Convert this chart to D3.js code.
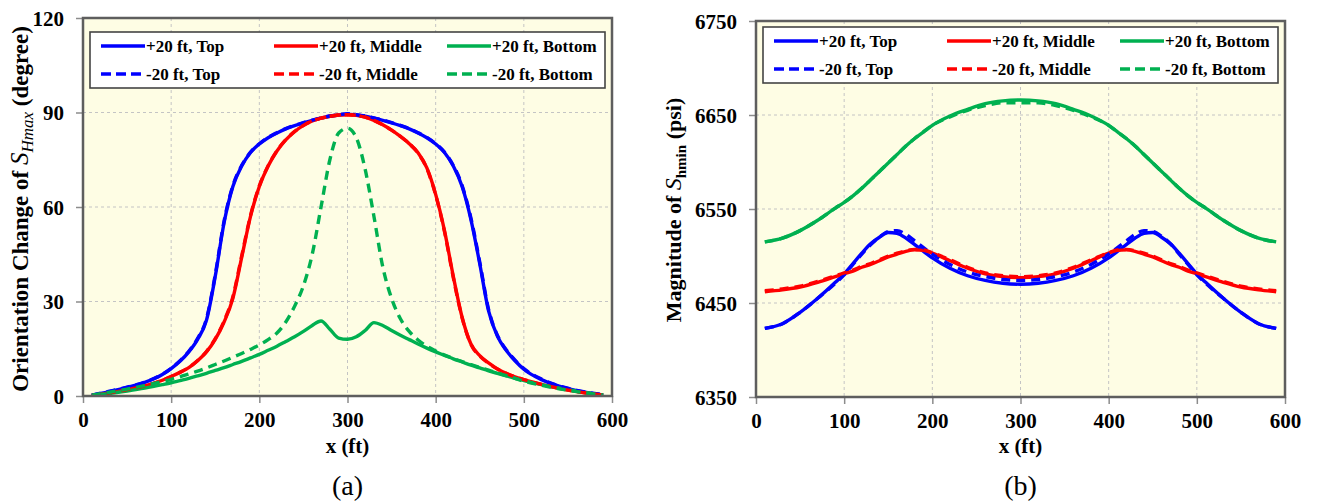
<!DOCTYPE html>
<html>
<head>
<meta charset="utf-8">
<script src="https://cdn.jsdelivr.net/npm/d3@7"></script>
<style>
  body { margin: 0; background: #fff; }
  svg { display: block; font-family: "Liberation Serif", "Times New Roman", serif; }
</style>
</head>
<body>
<svg id="chart" width="1317" height="501"></svg>
<script>
// ---------- data: panel (a) orientation change (degree) ----------
const xsA = [10, 30, 50, 70, 90, 100, 110, 120, 130, 140, 150, 160, 170, 180, 190, 200, 210, 220, 230, 240,
             250, 260, 270, 280, 290, 300, 310, 320, 330, 340, 350, 360, 370, 380, 390, 400, 410, 420, 430, 440,
             450, 460, 470, 480, 490, 500, 520, 540, 560, 590];
const topPlusA = [0.3, 1.4, 2.7, 4.3, 6.8, 8.7, 11, 14, 18, 24, 38, 55, 66.5, 73, 77.3, 80, 82, 83.5, 84.8, 85.8,
                  86.7, 87.5, 88.2, 88.8, 89.2, 89.5, 89.2, 88.8, 88.2, 87.5, 86.7, 85.8, 84.8, 83.5, 82, 80, 77.3, 73, 66.5, 56,
                  42, 27, 19, 14.5, 11.2, 8.5, 5.2, 3.1, 1.7, 0.3];
const topMinusA = [0.3, 1.5, 2.8, 4.4, 6.9, 8.8, 11.2, 14.2, 18.3, 24.5, 38.5, 55.5, 66.8, 73.2, 77.4, 80.1, 82.1, 83.6, 84.9, 85.9,
                   86.8, 87.6, 88.3, 88.9, 89.3, 89.6, 89.3, 88.9, 88.3, 87.6, 86.8, 85.9, 84.9, 83.6, 82.1, 80.1, 77.4, 73.2, 66.8, 56.5,
                   42.5, 27.5, 19.3, 14.7, 11.4, 8.7, 5.4, 3.2, 1.8, 0.4];
const midPlusA = [0.2, 1, 2, 3.2, 5, 6.2, 7.5, 9, 11.2, 14, 18, 23.5, 31, 44, 57, 66.5, 73, 77.8, 81.3, 83.9,
                  85.9, 87.3, 88.2, 88.8, 89.2, 89.3, 89.1, 88.5, 87.5, 86.1, 84.4, 82.4, 80.1, 77.2, 72.4, 64, 52.5, 38, 25, 16.5,
                  12.8, 10.5, 8.6, 7.2, 6.1, 5.2, 3.7, 2.4, 1.4, 0.3];
const midMinusA = [0.2, 1, 2, 3.2, 5, 6.2, 7.5, 9.1, 11.3, 14.1, 18.2, 23.8, 31.5, 44.5, 57.3, 66.7, 73.1, 77.9, 81.4, 84,
                   85.9, 87.3, 88.2, 88.8, 89.2, 89.3, 89.1, 88.5, 87.5, 86.1, 84.4, 82.4, 80.1, 77.1, 72.2, 63.8, 52.2, 37.6, 24.8, 16.4,
                   12.7, 10.4, 8.6, 7.2, 6.1, 5.2, 3.7, 2.4, 1.4, 0.3];
const botPlusA = [0.2, 0.8, 1.6, 2.5, 3.6, 4.2, 4.9, 5.6, 6.4, 7.2, 8.1, 9, 10, 11, 12.1, 13.2, 14.5, 15.8, 17.3, 18.8,
                  20.5, 22.4, 23.8, 21.2, 18.4, 18, 18.8, 20.8, 23.3, 22.4, 20.8, 19.3, 17.9, 16.5, 15.2, 14, 12.9, 11.8, 10.8, 9.8,
                  8.9, 8, 7.2, 6.4, 5.6, 4.9, 3.6, 2.5, 1.5, 0.2];
const botMinusA = [0.3, 1.2, 2.2, 3.3, 4.6, 5.3, 6.1, 7, 7.9, 8.9, 10, 11.1, 12.3, 13.5, 14.8, 16.2, 17.9, 20, 23.5, 28.5,
                   35, 45, 60, 75, 83.5, 85, 82, 72, 57, 41, 31, 24.5, 20.5, 17.8, 15.8, 14.3, 13, 11.9, 10.9, 10,
                   9.1, 8.2, 7.3, 6.5, 5.6, 4.7, 3.4, 2.3, 1.4, 0.3];

// ---------- data: panel (b) magnitude of Shmin (psi) ----------
const xsB = [10, 30, 50, 70, 90, 100, 110, 120, 130, 140, 150, 160, 170, 180, 190, 200, 220, 240, 260, 280, 300,
             320, 340, 360, 380, 400, 410, 420, 430, 440, 450, 460, 470, 480, 490, 500, 510, 530, 550, 570, 590];
const topPlusB = [6423, 6428, 6440, 6455, 6472, 6481, 6492, 6503, 6513, 6520, 6525, 6524, 6519, 6512, 6505, 6498, 6487, 6479, 6474, 6471, 6470,
                  6471, 6474, 6479, 6487, 6498, 6505, 6512, 6519, 6524, 6525, 6520, 6513, 6503, 6492, 6481, 6472, 6455, 6440, 6428, 6423];
const topMinusB = [6423, 6428, 6440, 6455, 6471, 6480, 6491, 6502, 6512, 6520, 6526, 6527, 6523, 6516, 6509, 6502, 6491, 6483, 6478, 6475, 6474,
                   6475, 6478, 6483, 6491, 6502, 6509, 6516, 6523, 6527, 6526, 6521, 6513, 6502, 6491, 6480, 6471, 6455, 6440, 6428, 6423];
const midPlusB = [6462, 6464, 6467, 6472, 6478, 6481, 6484, 6488, 6491, 6495, 6499, 6502, 6505, 6506.5, 6506, 6503, 6495, 6487, 6481, 6478, 6477,
                  6478, 6481, 6487, 6495, 6503, 6506, 6506.5, 6505, 6502, 6499, 6495, 6491, 6488, 6484, 6481, 6478, 6472, 6467, 6464, 6462];
const midMinusB = [6463, 6465, 6468, 6473, 6479, 6482, 6485, 6489, 6492, 6496, 6500, 6503, 6505.5, 6507, 6506.5, 6503.5, 6496, 6488, 6482, 6479, 6478,
                   6479, 6482, 6488, 6496, 6503.5, 6506.5, 6507, 6505.5, 6503, 6500, 6496, 6492, 6489, 6485, 6482, 6479, 6473, 6468, 6465, 6463];
const botPlusB = [6515, 6519, 6527, 6538, 6551, 6557, 6564, 6572, 6581, 6590, 6599, 6608, 6617, 6625, 6632, 6639, 6649, 6656, 6662, 6665, 6666,
                  6665, 6662, 6656, 6649, 6639, 6632, 6625, 6617, 6608, 6599, 6590, 6581, 6572, 6564, 6557, 6551, 6538, 6527, 6519, 6515];
const botMinusB = [6515, 6519, 6527, 6538, 6551, 6557, 6564, 6572, 6581, 6590, 6599, 6608, 6617, 6625, 6632, 6639, 6648, 6655, 6660, 6663, 6663,
                   6663, 6660, 6655, 6648, 6639, 6632, 6625, 6617, 6608, 6599, 6590, 6581, 6572, 6564, 6557, 6551, 6538, 6527, 6519, 6515];

const seriesNames = ["+20 ft, Top", "+20 ft, Middle", "+20 ft, Bottom", "-20 ft, Top", "-20 ft, Middle", "-20 ft, Bottom"];
const seriesColors = ["#0000ff", "#ff0000", "#00b050", "#0000ff", "#ff0000", "#00b050"];
const seriesDashed = [false, false, false, true, true, true];

const xTicks = [0, 100, 200, 300, 400, 500, 600];
const yTicksA = [0, 30, 60, 90, 120];
const yTicksB = [6350, 6450, 6550, 6650, 6750];

const svg = d3.select("#chart");

// builds one panel
function drawPanel(p) {
  const x = d3.scaleLinear().domain([0, 600]).range([p.left, p.right]);
  const y = d3.scaleLinear().domain(p.yDomain).range([p.bottom, p.top]);
  const g = svg.append("g");

  // plot area background
  g.append("rect")
    .attr("x", p.left).attr("y", p.top)
    .attr("width", p.right - p.left).attr("height", p.bottom - p.top)
    .attr("fill", "#fefde4");

  // grid
  g.selectAll(".vgrid").data(xTicks.slice(1, -1)).join("line")
    .attr("x1", d => x(d)).attr("x2", d => x(d))
    .attr("y1", p.top).attr("y2", p.bottom)
    .attr("stroke", "#c4c4c4").attr("stroke-width", 1).attr("stroke-dasharray", "3,3");
  g.selectAll(".hgrid").data(p.yTicks.slice(1, -1)).join("line")
    .attr("x1", p.left).attr("x2", p.right)
    .attr("y1", d => y(d)).attr("y2", d => y(d))
    .attr("stroke", "#c4c4c4").attr("stroke-width", 1).attr("stroke-dasharray", "3,3");

  // axes (ticks + labels)
  const xAxis = g.append("g").attr("transform", `translate(0,${p.bottom})`)
    .call(d3.axisBottom(x).tickValues(xTicks).tickSize(7).tickPadding(4).tickFormat(d3.format("d")));
  const yAxis = g.append("g").attr("transform", `translate(${p.left},0)`)
    .call(d3.axisLeft(y).tickValues(p.yTicks).tickSize(7).tickPadding(12).tickFormat(d3.format("d")));
  [xAxis, yAxis].forEach(a => {
    a.select(".domain").remove();
    a.selectAll(".tick line").attr("stroke", "#8c8c8c").attr("stroke-width", 1.5);
    a.selectAll(".tick text")
      .attr("fill", "#000")
      .style("font-family", "'Liberation Serif', serif")
      .style("font-weight", "bold")
      .style("font-size", "21px");
  });
  xAxis.selectAll(".tick text").attr("dy", "0.95em");
  yAxis.selectAll(".tick text").attr("dy", "0.35em");

  // lines
  const line = d3.line()
    .x(d => x(d[0])).y(d => y(d[1]))
    .curve(d3.curveMonotoneX);
  const clip = "clip-" + p.id;
  svg.append("clipPath").attr("id", clip).append("rect")
    .attr("x", p.left).attr("y", p.top)
    .attr("width", p.right - p.left).attr("height", p.bottom - p.top);
  const lines = g.append("g").attr("clip-path", `url(#${clip})`);
  p.series.forEach((vals, i) => {
    lines.append("path")
      .datum(p.xs.map((xv, j) => [xv, vals[j]]))
      .attr("d", line)
      .attr("fill", "none")
      .attr("stroke", seriesColors[i])
      .attr("stroke-width", 3.4)
      .attr("stroke-linejoin", "round")
      .attr("stroke-dasharray", seriesDashed[i] ? "9,6" : null);
  });

  // frame
  g.append("rect")
    .attr("x", p.left).attr("y", p.top)
    .attr("width", p.right - p.left).attr("height", p.bottom - p.top)
    .attr("fill", "none").attr("stroke", "#5e5e5e").attr("stroke-width", 2.5);

  // legend
  const lg = g.append("g");
  lg.append("rect")
    .attr("x", p.left + 7).attr("y", p.top + p.legTop)
    .attr("width", p.right - p.left - 14).attr("height", 56)
    .attr("fill", "#fff").attr("stroke", "#444").attr("stroke-width", 1.6);
  const colX = [11, 184, 357];
  const rowY = [14, 42];
  seriesNames.forEach((name, i) => {
    const cx = p.left + 7 + colX[i % 3];
    const cy = p.top + p.legTop + rowY[Math.floor(i / 3)];
    lg.append("line")
      .attr("x1", cx).attr("x2", cx + 44)
      .attr("y1", cy).attr("y2", cy)
      .attr("stroke", seriesColors[i]).attr("stroke-width", 3.4)
      .attr("stroke-dasharray", seriesDashed[i] ? "10,5" : null);
    lg.append("text")
      .attr("x", cx + 45).attr("y", cy + 6)
      .attr("font-size", 17).attr("font-weight", "bold")
      .text(name);
  });

  // x title
  g.append("text")
    .attr("x", (p.left + p.right) / 2).attr("y", 453)
    .attr("text-anchor", "middle")
    .attr("font-size", 21).attr("font-weight", "bold")
    .text("x (ft)");

  // caption
  g.append("text")
    .attr("x", (p.left + p.right) / 2).attr("y", 495)
    .attr("text-anchor", "middle")
    .attr("font-size", 28)
    .text(p.caption);

  // y title
  const yt = g.append("text")
    .attr("transform", `translate(${p.yTitleX},${p.yTitleY}) rotate(-90)`)
    .attr("text-anchor", "middle")
    .attr("font-size", p.yTitleSize).attr("font-weight", "bold");
  p.yTitle(yt);
}

drawPanel({
  id: "a", left: 83, right: 612, top: 18, bottom: 396,
  yDomain: [0, 120], yTicks: yTicksA, legTop: 14,
  xs: xsA,
  series: [topPlusA, midPlusA, botPlusA, topMinusA, midMinusA, botMinusA],
  caption: "(a)", yTitleX: 28, yTitleY: 209, yTitleSize: 23,
  yTitle: t => {
    t.append("tspan").text("Orientation Change of ");
    t.append("tspan").attr("font-style", "italic").attr("font-weight", "normal").attr("font-size", 25).text("S");
    t.append("tspan").attr("font-style", "italic").attr("font-weight", "normal").attr("font-size", 17).attr("dy", 5).text("Hmax");
    t.append("tspan").attr("dy", -5).text(" (degree)");
  }
});

drawPanel({
  id: "b", left: 756, right: 1285, top: 21, bottom: 397,
  yDomain: [6350, 6750], yTicks: yTicksB, legTop: 6,
  xs: xsB,
  series: [topPlusB, midPlusB, botPlusB, topMinusB, midMinusB, botMinusB],
  caption: "(b)", yTitleX: 681, yTitleY: 210, yTitleSize: 22,
  yTitle: t => {
    t.append("tspan").text("Magnitude of ");
    t.append("tspan").attr("font-style", "italic").attr("font-weight", "normal").attr("font-size", 24).text("S");
    t.append("tspan").attr("font-size", 15).attr("dy", 5).text("hmin");
    t.append("tspan").attr("dy", -5).text(" (psi)");
  }
});
</script>
</body>
</html>
